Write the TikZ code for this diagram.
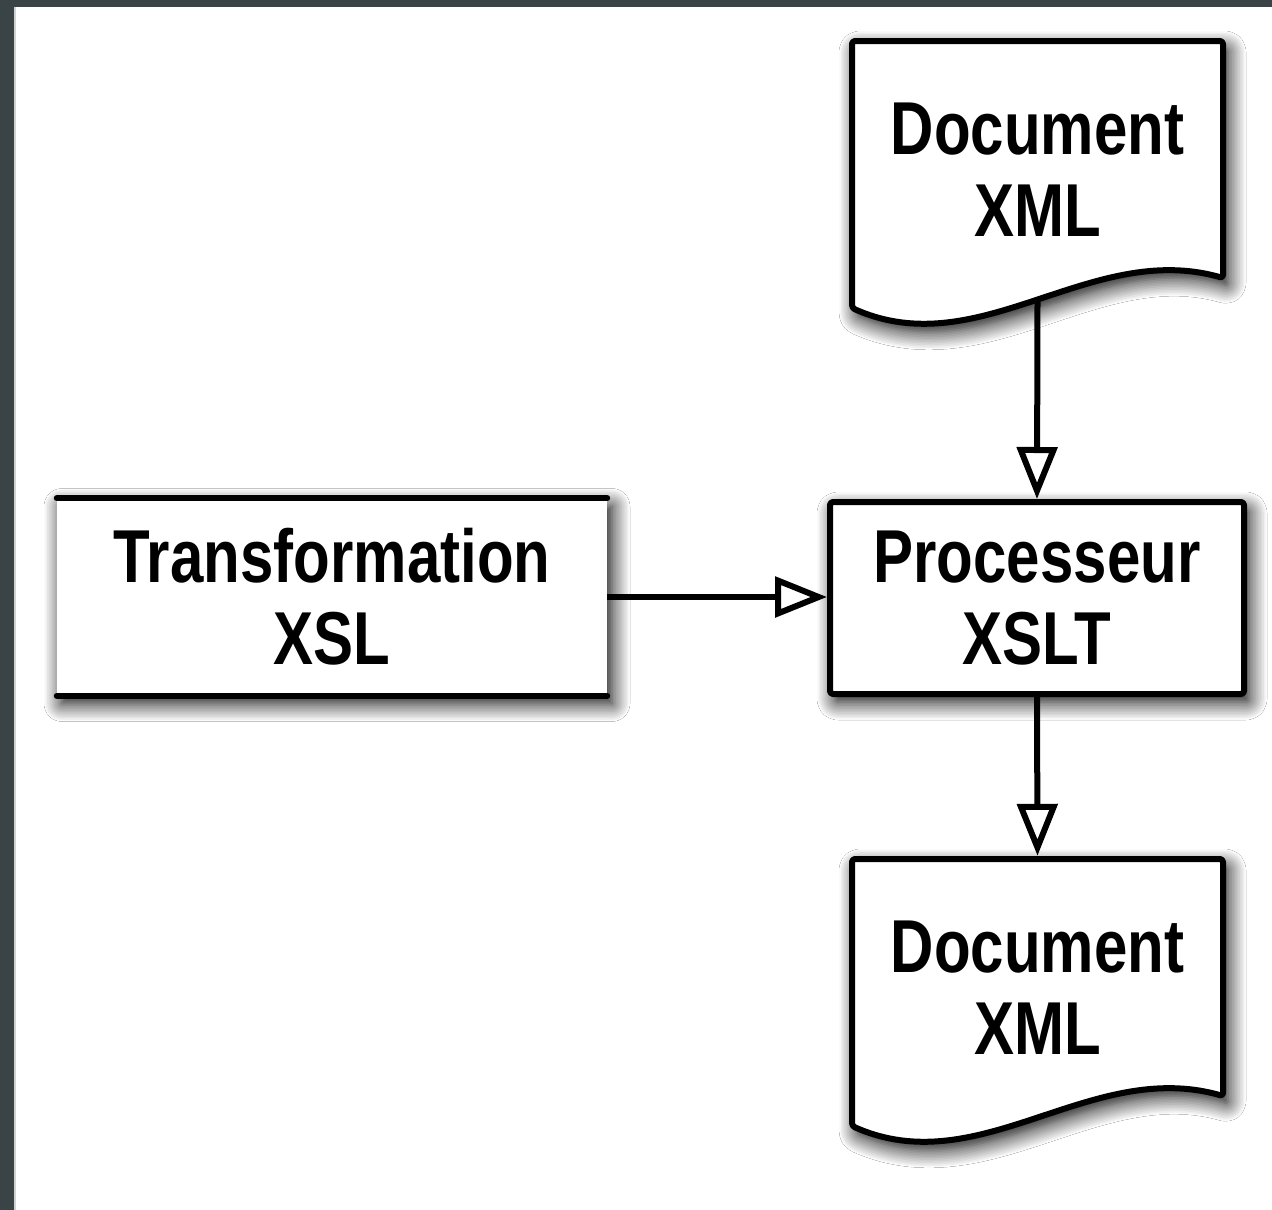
\documentclass[tikz,border=0pt]{standalone}
\usepackage{fontspec}
\newfontfamily\boxfont{Liberation Sans}[FakeStretch=0.8]
\usetikzlibrary{arrows.meta,shadows.blur}
\definecolor{frame}{HTML}{3A4345}
\begin{document}
\begin{tikzpicture}[x=1pt,y=-1pt,
  shadowed/.style={blur shadow={shadow xshift=5pt, shadow yshift=-8pt, shadow blur radius=18pt, shadow blur steps=12, shadow opacity=100}},
  outline/.style={draw=black, line width=6pt, line join=round},
  boxtext/.style={font=\boxfont\bfseries\fontsize{75}{82}\selectfont, align=center, inner sep=0pt},
  flow/.style={line width=6pt, -{Triangle[open, length=52pt, width=40pt]}}
]
\useasboundingbox (0,0) rectangle (1272,1210);
\fill[frame] (0,0) rectangle (1272,1210);
\fill[white] (15,7) rectangle (1272,1210);
\draw[gray!35, line width=1.5pt] (15,7) -- (15,1210);

% document shapes
\path[shadowed, outline, fill=white, rounded corners=3pt]
  (1223,278) .. controls (1090,240) and (980,365) .. (852,308) -- (852,41) -- (1223,41) -- cycle;
\path[shadowed, outline, fill=white, rounded corners=3pt]
  (1223,1096) .. controls (1090,1058) and (980,1183) .. (852,1126) -- (852,859) -- (1223,859) -- cycle;

\node[boxtext, minimum width=371pt, minimum height=264pt] (docin) at (1037.5,170) {Document\\XML};
\node[boxtext, minimum width=371pt, minimum height=264pt] (docout) at (1037.5,988) {Document\\XML};

\node[boxtext, outline, fill=white, shadowed, rounded corners=3pt,
      minimum width=414pt, minimum height=192pt] (proc) at (1037,598) {Processeur\\XSLT};

\node[boxtext, fill=white, shadowed, minimum width=550pt, minimum height=197pt] (xsl) at (332,597) {Transformation\\XSL};
\draw[line width=6pt, line cap=round] (xsl.north west) -- (xsl.north east);
\draw[line width=6pt, line cap=round] (xsl.south west) -- (xsl.south east);

\draw[flow] (docin.south) -- (proc.north);
\draw[flow] (xsl.east) -- (xsl.east -| proc.west);
\draw[flow] (proc.south) -- (docout.north);
\end{tikzpicture}
\end{document}
